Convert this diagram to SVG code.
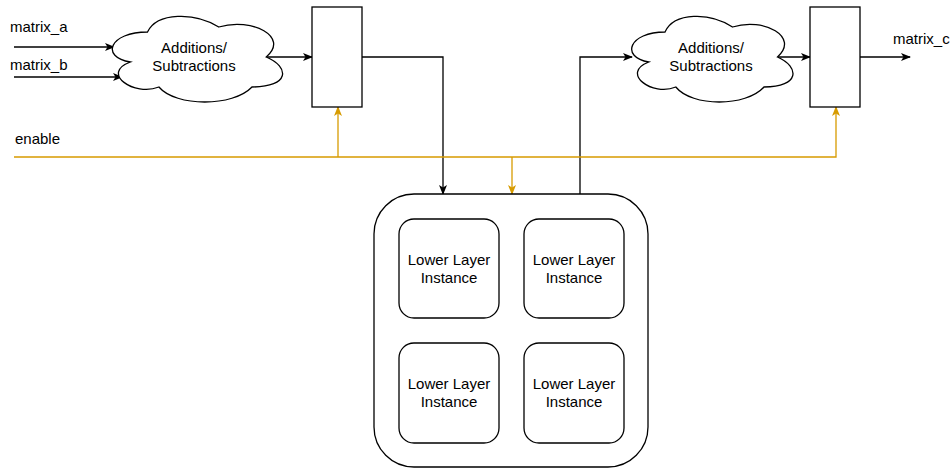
<svg xmlns="http://www.w3.org/2000/svg" width="951" height="468" viewBox="0 0 951 468">
  <style>
    .shape { fill: #ffffff; stroke: #000000; stroke-width: 1.3; }
    .wire { fill: none; stroke: #000000; stroke-width: 1.3; }
    .en { fill: none; stroke: #d79b00; stroke-width: 1.3; }
    text { font-family: "Liberation Sans", Arial, sans-serif; font-size: 15px; fill: #000000; }
    .c { text-anchor: middle; }
  </style>
  <defs>
    <marker id="arrowBlack" viewBox="0 0 10 8" refX="9" refY="4" markerWidth="10" markerHeight="8" markerUnits="userSpaceOnUse" orient="auto">
      <path d="M0,0 L10,4 L0,8 L2.5,4 Z" fill="#000000"/>
    </marker>
    <marker id="arrowOrange" viewBox="0 0 10 8" refX="9" refY="4" markerWidth="10" markerHeight="8" markerUnits="userSpaceOnUse" orient="auto">
      <path d="M0,0 L10,4 L0,8 L2.5,4 Z" fill="#d79b00"/>
    </marker>
  </defs>

  <!-- connectors -->
  <g id="connectors">
    <path class="wire" d="M14,47 L114,47" marker-end="url(#arrowBlack)"/>
    <path class="wire" d="M14,77 L122,77" marker-end="url(#arrowBlack)"/>
    <path class="wire" d="M265,57 L312,57" marker-end="url(#arrowBlack)"/>
    <path class="wire" d="M362,57 L443,57 L443,194" marker-end="url(#arrowBlack)"/>
    <path class="wire" d="M580,194 L580,57 L632,57" marker-end="url(#arrowBlack)"/>
    <path class="wire" d="M777,57 L810,57" marker-end="url(#arrowBlack)"/>
    <path class="wire" d="M860,57 L910,57" marker-end="url(#arrowBlack)"/>
    <path class="en" d="M14,157 L836,157 L836,107" marker-end="url(#arrowOrange)"/>
    <path class="en" d="M338,157 L338,107" marker-end="url(#arrowOrange)"/>
    <path class="en" d="M512,157 L512,194" marker-end="url(#arrowOrange)"/>
  </g>

  <!-- port labels -->
  <g id="labels">
    <text x="10" y="32">matrix_a</text>
    <text x="10" y="70">matrix_b</text>
    <text x="15" y="144">enable</text>
    <text x="893" y="44">matrix_c</text>
  </g>

  <g id="addsub1">
    <path class="shape" d="M147.5,32 C109.5,32 100,57 130.4,62 C100,73 134.2,97 158.9,87 C176,107 233,107 252,87 C290,87 290,67 266.25,57 C290,37 252,17 218.75,27 C195,12 157,12 147.5,32 Z"/>
    <text class="c" x="194" y="53">Additions/</text>
    <text class="c" x="194" y="71">Subtractions</text>
  </g>

  <g id="register1">
    <rect class="shape" x="312" y="7" width="50" height="100"/>
  </g>

  <g id="addsub2">
    <path class="shape" d="M665,32 C629,32 620,57 648.8,62 C620,73 652.4,97 675.8,87 C692,107 746,107 764,87 C800,87 800,67 777.5,57 C800,37 764,17 732.5,27 C710,12 674,12 665,32 Z"/>
    <text class="c" x="711" y="53">Additions/</text>
    <text class="c" x="711" y="71">Subtractions</text>
  </g>

  <g id="register2">
    <rect class="shape" x="810" y="7" width="50" height="100"/>
  </g>

  <g id="upperLayer">
    <rect class="shape" x="374" y="194" width="274" height="273" rx="40" ry="40"/>
  </g>

  <g id="instance1">
    <rect class="shape" x="399" y="219" width="100" height="99" rx="15" ry="15"/>
    <text class="c" x="449" y="265">Lower Layer</text>
    <text class="c" x="449" y="283">Instance</text>
  </g>
  <g id="instance2">
    <rect class="shape" x="524" y="219" width="100" height="99" rx="15" ry="15"/>
    <text class="c" x="574" y="265">Lower Layer</text>
    <text class="c" x="574" y="283">Instance</text>
  </g>
  <g id="instance3">
    <rect class="shape" x="399" y="343" width="100" height="100" rx="15" ry="15"/>
    <text class="c" x="449" y="389">Lower Layer</text>
    <text class="c" x="449" y="407">Instance</text>
  </g>
  <g id="instance4">
    <rect class="shape" x="524" y="343" width="100" height="100" rx="15" ry="15"/>
    <text class="c" x="574" y="389">Lower Layer</text>
    <text class="c" x="574" y="407">Instance</text>
  </g>
</svg>
